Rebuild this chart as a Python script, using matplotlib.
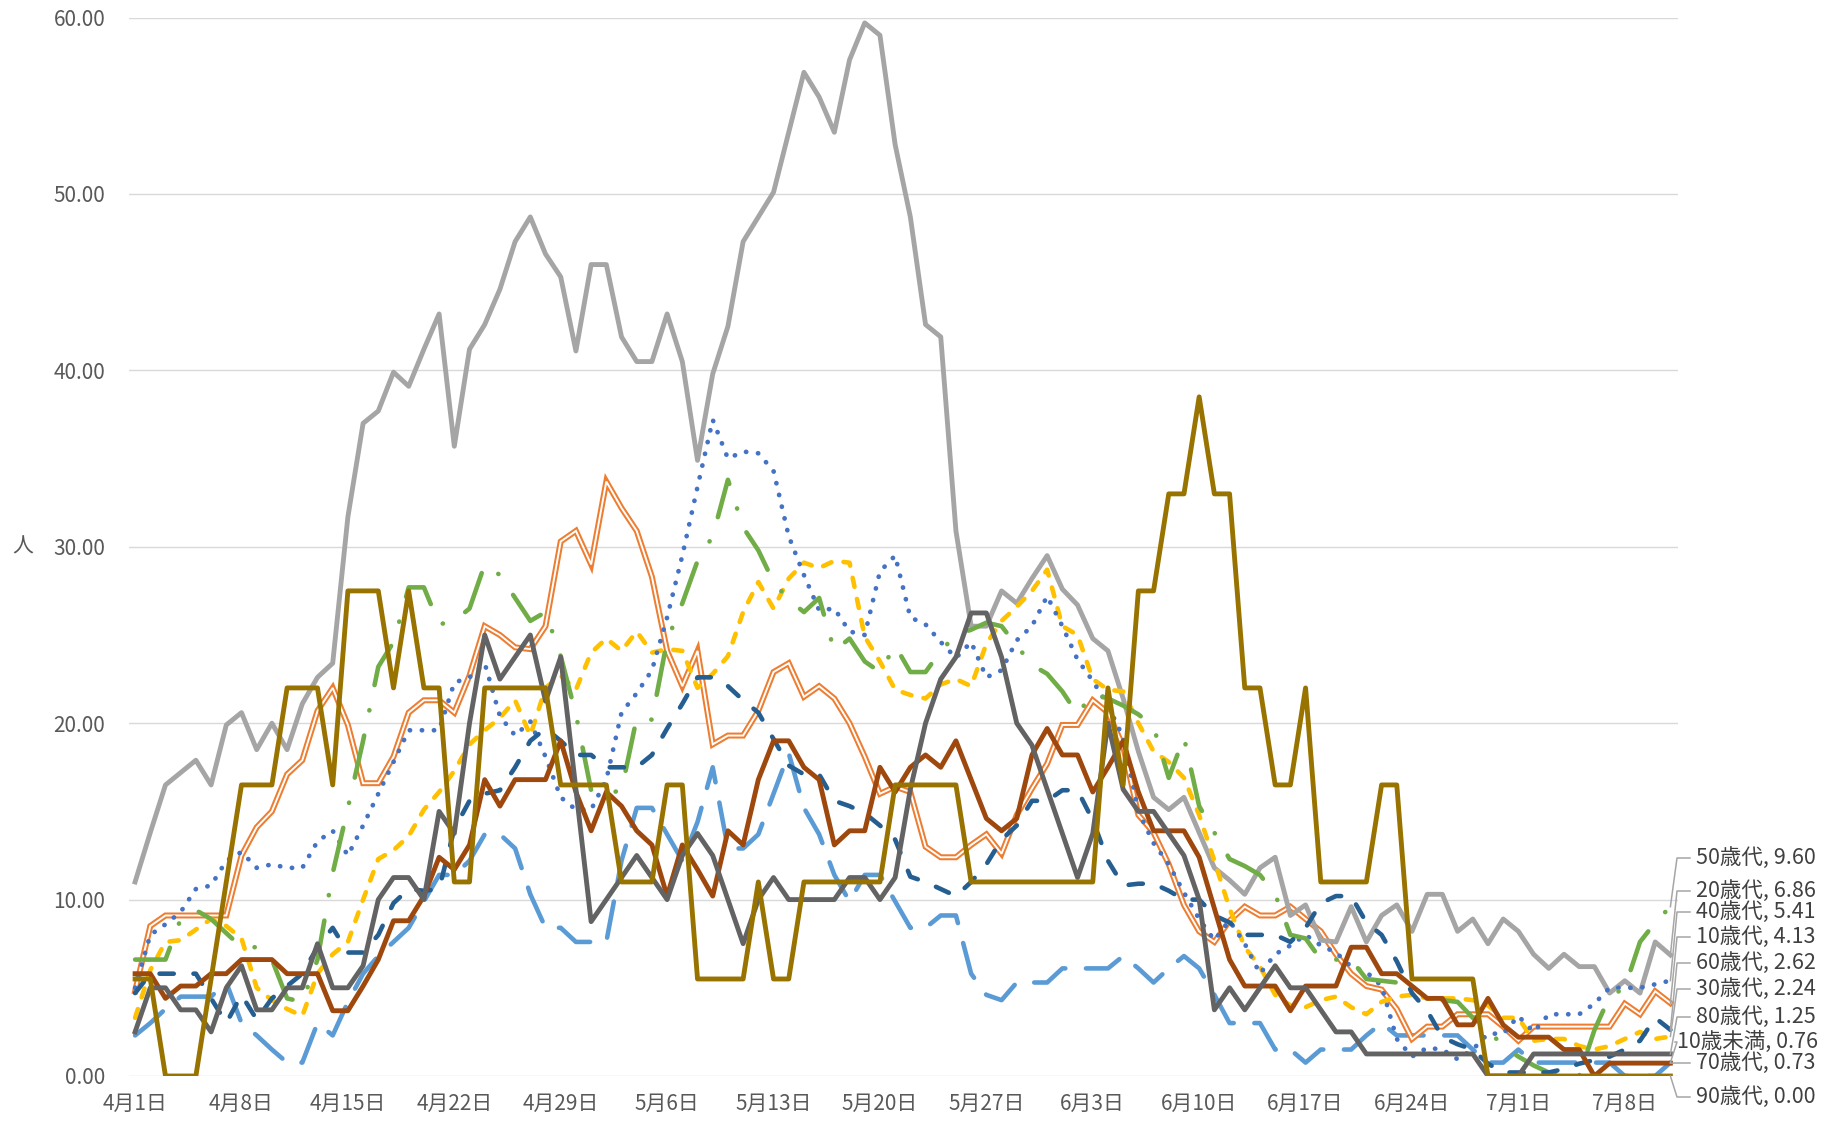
import numpy as np
import matplotlib.pyplot as plt
from matplotlib.lines import Line2D

plt.rcParams['font.family'] = ['Noto Sans CJK JP', 'DejaVu Sans']

# one point per day, 4月1日 .. 7月11日
tick_labels = ['4月1日', '4月8日', '4月15日', '4月22日', '4月29日', '5月6日', '5月13日',
               '5月20日', '5月27日', '6月3日', '6月10日', '6月17日', '6月24日', '7月1日', '7月8日']

age_groups = ['10歳未満', '10歳代', '20歳代', '30歳代', '40歳代',
              '50歳代', '60歳代', '70歳代', '80歳代', '90歳代']

under10 = [2.3, 3.0, 3.8, 4.5, 4.5, 4.5, 5.3, 3.0, 2.3, 1.5,
           0.76, 0.76, 3.0, 2.3, 4.2, 5.8, 6.8, 7.6, 8.4, 9.9,
           11.4, 11.4, 12.2, 13.7, 13.7, 12.9, 10.3, 8.4, 8.4, 7.6,
           7.6, 7.6, 12.2, 15.2, 15.2, 13.7, 12.2, 14.4, 17.5, 12.9,
           12.9, 13.7, 16.0, 18.3, 15.2, 13.7, 11.4, 9.9, 11.4, 11.4,
           9.9, 8.4, 8.4, 9.1, 9.1, 5.8, 4.6, 4.3, 5.3, 5.3,
           5.3, 6.1, 6.1, 6.1, 6.1, 6.8, 6.1, 5.3, 6.1, 6.8,
           6.1, 4.6, 3.0, 3.0, 3.0, 1.5, 1.5, 0.76, 1.5, 1.5,
           1.5, 2.3, 3.0, 2.3, 2.3, 2.3, 2.3, 2.3, 1.5, 0.76,
           0.76, 1.5, 0.76, 0.76, 0.76, 0.76, 0.76, 0.76, 0.0, 0.0,
           0.0, 0.76]

teens = [4.8, 8.5, 9.1, 9.1, 9.1, 9.1, 9.1, 12.5, 14.1, 15.0,
         17.1, 17.9, 20.7, 22.0, 19.9, 16.6, 16.6, 18.1, 20.6, 21.3,
         21.3, 20.6, 22.7, 25.5, 25.0, 24.3, 24.2, 25.5, 30.3, 30.9,
         29.0, 33.7, 32.2, 30.9, 28.3, 24.1, 22.1, 24.1, 18.8, 19.3,
         19.3, 20.7, 22.9, 23.4, 21.5, 22.1, 21.4, 20.0, 18.1, 16.0,
         16.4, 16.1, 13.0, 12.4, 12.4, 13.1, 13.7, 12.6, 14.8, 16.3,
         17.7, 19.9, 19.9, 21.3, 20.6, 18.7, 14.8, 13.8, 12.0, 9.7,
         8.2, 7.6, 8.8, 9.6, 9.1, 9.1, 9.6, 8.9, 8.2, 6.9,
         5.8, 5.1, 4.9, 3.8, 2.1, 2.8, 2.8, 3.5, 3.5, 3.5,
         2.8, 2.0, 2.8, 2.8, 2.8, 2.8, 2.8, 2.8, 4.1, 3.5,
         4.8, 4.13]

twenties = [11.0, 13.8, 16.5, 17.2, 17.9, 16.5, 19.9, 20.6, 18.5, 20.0,
            18.5, 21.1, 22.6, 23.4, 31.7, 37.0, 37.7, 39.9, 39.1, 41.2,
            43.2, 35.7, 41.2, 42.6, 44.6, 47.3, 48.7, 46.6, 45.3, 41.1,
            46.0, 46.0, 41.9, 40.5, 40.5, 43.2, 40.5, 34.9, 39.8, 42.5,
            47.3, 48.7, 50.1, 53.5, 56.9, 55.5, 53.5, 57.6, 59.7, 59.0,
            52.8, 48.7, 42.6, 41.9, 30.9, 25.5, 25.5, 27.5, 26.8, 28.2,
            29.5, 27.6, 26.7, 24.8, 24.1, 21.4, 18.4, 15.8, 15.1, 15.8,
            13.8, 11.8, 11.1, 10.3, 11.8, 12.4, 9.1, 9.7, 7.7, 7.6,
            9.6, 7.6, 9.1, 9.7, 8.2, 10.3, 10.3, 8.2, 8.9, 7.5,
            8.9, 8.2, 6.9, 6.1, 6.9, 6.2, 6.2, 4.7, 5.4, 4.7,
            7.6, 6.86]

thirties = [3.3, 6.0, 7.6, 7.7, 8.3, 8.9, 8.5, 7.8, 5.0, 4.3,
            3.8, 3.4, 5.8, 6.9, 7.6, 10.0, 12.3, 12.8, 13.6, 15.1,
            16.1, 17.3, 18.8, 19.6, 20.3, 21.3, 19.3, 22.0, 22.7, 21.9,
            24.0, 24.8, 24.1, 25.2, 24.0, 24.2, 24.1, 22.0, 22.8, 23.8,
            26.3, 28.0, 26.5, 28.2, 29.1, 28.8, 29.2, 29.1, 24.9, 23.5,
            21.9, 21.6, 21.4, 22.2, 22.5, 22.1, 24.5, 25.8, 26.6, 27.5,
            28.7, 25.5, 25.0, 22.5, 21.9, 21.8, 20.0, 18.4, 17.8, 16.9,
            14.8, 12.2, 9.5, 7.3, 6.2, 4.6, 4.0, 3.9, 4.3, 4.5,
            3.9, 3.5, 4.2, 4.5, 4.6, 4.4, 4.4, 4.4, 4.3, 4.0,
            3.3, 3.3, 2.0, 2.1, 2.1, 1.7, 1.5, 1.7, 2.1, 2.5,
            2.1, 2.24]

forties = [5.0, 8.0, 8.6, 9.3, 10.6, 10.8, 12.2, 12.7, 11.8, 12.0,
           11.8, 11.8, 13.3, 13.9, 12.5, 14.2, 16.0, 17.8, 19.6, 19.6,
           19.6, 22.3, 22.6, 23.4, 20.4, 19.3, 20.1, 18.1, 15.8, 15.1,
           15.1, 16.8, 20.6, 21.7, 23.0, 26.0, 29.5, 33.4, 37.2, 35.0,
           35.4, 35.3, 34.3, 30.6, 28.4, 26.4, 26.5, 25.2, 25.0, 28.6,
           29.5, 26.0, 25.6, 24.6, 23.7, 24.6, 22.6, 23.0, 24.7, 25.5,
           27.2, 25.5, 23.6, 22.4, 21.0, 19.2, 15.0, 13.2, 12.0, 10.4,
           8.9, 7.7, 8.8, 7.5, 5.8, 6.9, 7.4, 8.0, 7.4, 7.0,
           6.2, 5.9, 5.1, 2.1, 1.1, 1.6, 1.5, 0.95, 1.5, 2.4,
           2.4, 3.4, 2.5, 3.5, 3.5, 3.5, 4.1, 5.0, 5.0, 5.0,
           5.2, 5.41]

fifties = [6.6, 6.6, 6.6, 8.9, 9.4, 8.9, 8.1, 7.3, 7.3, 6.6,
           4.4, 4.2, 6.6, 11.5, 15.2, 19.0, 23.2, 24.6, 27.7, 27.7,
           25.6, 25.8, 26.5, 29.0, 28.4, 27.1, 25.8, 26.3, 23.8, 20.5,
           16.2, 16.0, 16.2, 20.3, 20.2, 24.7, 26.8, 29.2, 30.6, 33.8,
           31.1, 29.8, 28.0, 27.0, 26.3, 27.1, 24.1, 24.8, 23.5, 22.9,
           24.4, 22.9, 22.9, 24.1, 25.0, 25.3, 25.7, 25.5, 24.4, 23.3,
           22.8, 21.8, 20.5, 21.7, 21.4, 21.0, 20.5, 19.8, 16.9, 19.2,
           15.3, 13.8, 12.3, 11.9, 11.4, 10.3, 8.0, 7.8, 6.6, 6.6,
           6.6, 5.5, 5.4, 5.3, 5.1, 4.4, 4.3, 4.2, 3.3, 2.6,
           1.7, 1.1, 0.6, 0.2, 0.0, 0.0, 2.6, 4.5, 5.0, 7.6,
           8.7, 9.60]

sixties = [4.7, 5.8, 5.8, 5.8, 5.8, 4.4, 3.0, 4.6, 3.2, 4.4,
           5.1, 5.8, 7.3, 8.4, 7.0, 7.0, 8.0, 9.8, 10.6, 10.5,
           10.6, 14.0, 15.6, 16.0, 16.2, 17.5, 19.0, 19.7, 19.0, 18.2,
           18.2, 17.5, 17.5, 17.5, 18.2, 19.7, 21.1, 22.6, 22.6, 22.1,
           21.3, 20.6, 19.1, 17.6, 17.1, 17.1, 15.6, 15.3, 14.9, 14.2,
           13.4, 11.3, 11.0, 10.6, 10.2, 11.0, 12.0, 13.4, 14.2, 15.6,
           15.6, 16.2, 16.2, 14.5, 12.2, 10.8, 10.9, 10.9, 10.5, 10.0,
           10.0, 9.1, 8.7, 8.0, 8.0, 8.0, 7.6, 8.4, 9.8, 10.2,
           10.2, 8.7, 8.0, 6.5, 4.7, 3.7, 2.2, 1.8, 1.5, 0.7,
           0.2, 0.2, 0.2, 0.2, 0.4, 0.7, 0.9, 1.1, 1.5, 2.0,
           3.3, 2.62]

seventies = [5.8, 5.8, 4.4, 5.1, 5.1, 5.8, 5.8, 6.6, 6.6, 6.6,
             5.8, 5.8, 5.8, 3.7, 3.7, 5.1, 6.6, 8.8, 8.8, 10.2,
             12.4, 11.7, 13.1, 16.8, 15.3, 16.8, 16.8, 16.8, 19.0, 16.1,
             13.9, 16.1, 15.3, 13.9, 13.1, 10.2, 13.1, 11.7, 10.2, 13.9,
             13.1, 16.8, 19.0, 19.0, 17.5, 16.8, 13.1, 13.9, 13.9, 17.5,
             16.1, 17.5, 18.2, 17.5, 19.0, 16.8, 14.6, 13.9, 14.6, 18.2,
             19.7, 18.2, 18.2, 16.1, 17.5, 19.0, 16.1, 13.9, 13.9, 13.9,
             12.4, 9.5, 6.6, 5.1, 5.1, 5.1, 3.7, 5.1, 5.1, 5.1,
             7.3, 7.3, 5.8, 5.8, 5.1, 4.4, 4.4, 2.9, 2.9, 4.4,
             2.9, 2.2, 2.2, 2.2, 1.5, 1.5, 0.0, 0.73, 0.73, 0.73,
             0.73, 0.73]

eighties = [2.5, 5.0, 5.0, 3.75, 3.75, 2.5, 5.0, 6.25, 3.75, 3.75,
            5.0, 5.0, 7.5, 5.0, 5.0, 6.25, 10.0, 11.25, 11.25, 10.0,
            15.0, 13.75, 20.0, 25.0, 22.5, 23.75, 25.0, 21.25, 23.75, 16.25,
            8.75, 10.0, 11.25, 12.5, 11.25, 10.0, 12.5, 13.75, 12.5, 10.0,
            7.5, 10.0, 11.25, 10.0, 10.0, 10.0, 10.0, 11.25, 11.25, 10.0,
            11.25, 16.25, 20.0, 22.5, 23.75, 26.25, 26.25, 23.75, 20.0, 18.75,
            16.25, 13.75, 11.25, 13.75, 20.0, 16.25, 15.0, 15.0, 13.75, 12.5,
            10.0, 3.75, 5.0, 3.75, 5.0, 6.25, 5.0, 5.0, 3.75, 2.5,
            2.5, 1.25, 1.25, 1.25, 1.25, 1.25, 1.25, 1.25, 1.25, 0.0,
            0.0, 0.0, 1.25, 1.25, 1.25, 1.25, 1.25, 1.25, 1.25, 1.25,
            1.25, 1.25]

nineties = [5.5, 5.5, 0.0, 0.0, 0.0, 5.5, 11.0, 16.5, 16.5, 16.5,
            22.0, 22.0, 22.0, 16.5, 27.5, 27.5, 27.5, 22.0, 27.5, 22.0,
            22.0, 11.0, 11.0, 22.0, 22.0, 22.0, 22.0, 22.0, 16.5, 16.5,
            16.5, 16.5, 11.0, 11.0, 11.0, 16.5, 16.5, 5.5, 5.5, 5.5,
            5.5, 11.0, 5.5, 5.5, 11.0, 11.0, 11.0, 11.0, 11.0, 11.0,
            16.5, 16.5, 16.5, 16.5, 16.5, 11.0, 11.0, 11.0, 11.0, 11.0,
            11.0, 11.0, 11.0, 11.0, 22.0, 16.5, 27.5, 27.5, 33.0, 33.0,
            38.5, 33.0, 33.0, 22.0, 22.0, 16.5, 16.5, 22.0, 11.0, 11.0,
            11.0, 11.0, 16.5, 16.5, 5.5, 5.5, 5.5, 5.5, 5.5, 0.0,
            0.0, 0.0, 0.0, 0.0, 0.0, 0.0, 0.0, 0.0, 0.0, 0.0,
            0.0, 0.0]

series = [under10, teens, twenties, thirties, forties,
          fifties, sixties, seventies, eighties, nineties]
assert all(len(s) == 102 for s in series)

colors = ['#5B9BD5', '#ED7D31', '#A5A5A5', '#FFC000', '#4472C4',
          '#70AD47', '#255E91', '#9E480E', '#636363', '#997300']
# dash patterns in units of line width (round caps add half a width each end)
dashes = [(8, 4.5), None, None, (2.0, 2.7), (0.05, 2.5),
          (9.4, 5.6, 0.05, 5.6), (3.1, 4.3), None, None, None]
widths = [3.3, None, 3.5, 3.3, 3.4, 3.3, 3.3, 3.5, 3.5, 3.5]

W, H = 1840, 1122
fig = plt.figure(figsize=(W / 100, H / 100), dpi=100)
ax = fig.add_axes([129 / W, 46 / H, (1678 - 129) / W, (1076 - 17.6) / H])

x = np.arange(102)
for i, vals in enumerate(series):
    z = 3 + i
    if i == 1:
        # double ("compound") line
        ax.plot(x, vals, color=colors[i], lw=4.3, zorder=z, solid_joinstyle='miter')
        ax.plot(x, vals, color='white', lw=1.4, zorder=z + 0.1, solid_joinstyle='miter')
        continue
    line, = ax.plot(x, vals, color=colors[i], lw=widths[i], zorder=z,
                    solid_joinstyle='round', dash_capstyle='round',
                    dash_joinstyle='round')
    if dashes[i] is not None:
        line.set_dashes(dashes[i])

ax.set_xlim(-0.4, 101.5)
ax.set_ylim(0, 60)
ax.set_yticks(np.arange(0, 61, 10))
ax.set_yticklabels([f'{v:.2f}' for v in np.arange(0, 61, 10)])
ax.set_xticks(np.arange(0, 99, 7))
ax.set_xticklabels(tick_labels)
ax.tick_params(axis='y', length=0, pad=17, labelsize=15, labelcolor='#595959')
ax.tick_params(axis='x', length=0, pad=12, labelsize=15, labelcolor='#595959')
for s in ax.spines.values():
    s.set_visible(False)
ax.yaxis.grid(True, color='#D9D9D9', lw=1.0)
ax.set_axisbelow(True)

ax.set_ylabel('人', rotation=0, fontsize=15, color='#595959', va='center', ha='center')
ax.yaxis.set_label_coords(-0.0684, 0.5)

# data labels for the last point, placed at the right margin with leader lines
label_y = {'50歳代': 858, '20歳代': 891, '40歳代': 912, '10歳代': 937, '60歳代': 963,
           '30歳代': 989, '80歳代': 1017, '10歳未満': 1042, '70歳代': 1063, '90歳代': 1097}
for name, vals in zip(age_groups, series):
    px, py = ax.transData.transform((101, vals[-1]))
    ly = H - label_y[name]
    left = 1677 if name == '10歳未満' else 1696
    xs = [px, 1677, min(1690, left - 2)]
    ys = [py, ly, ly]
    fig.add_artist(Line2D([v / W for v in xs], [v / H for v in ys],
                          transform=fig.transFigure, color='#A6A6A6', lw=1.1))
    fig.text(left / W, ly / H, f'{name}, {vals[-1]:.2f}', fontsize=15.5,
             color='#404040', ha='left', va='center')

fig.savefig('out.png', dpi=100)
